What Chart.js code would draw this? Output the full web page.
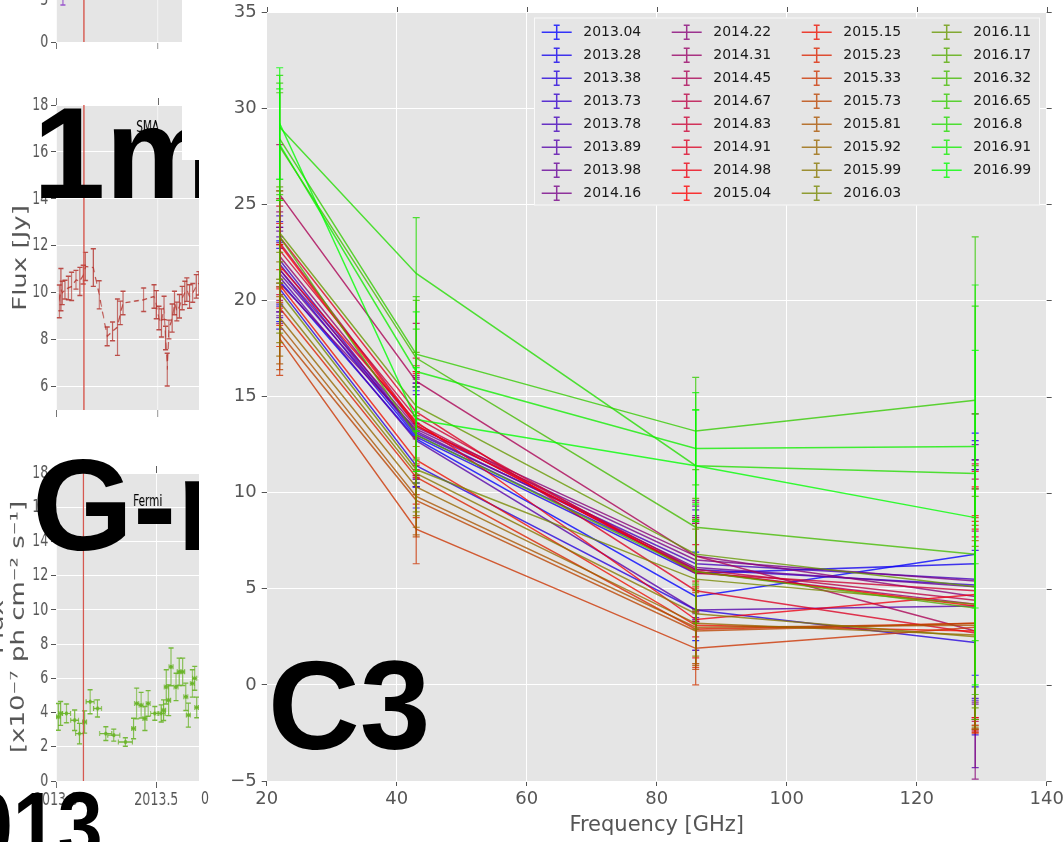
<!DOCTYPE html>
<html>
<head>
<meta charset="utf-8">
<title>Multi-frequency flux spectra</title>
<script src="https://cdn.jsdelivr.net/npm/chart.js@4.4.1/dist/chart.umd.min.js"></script>
<style>
  html, body { margin: 0; padding: 0; background: #fff; }
  #stage { position: relative; width: 1063px; height: 842px; overflow: hidden; background: #fff; }
  #leftCol { position: absolute; left: 0; top: 0; width: 199px; height: 842px; overflow: hidden; }
  #squeeze { position: absolute; left: 0; top: 0; width: 342px; height: 842px; transform-origin: 0 0; transform: scaleX(0.7); }
  #squeeze canvas { position: absolute; left: 0; }
  #mainWrap { position: absolute; left: 200px; top: 0; width: 863px; height: 842px; background: #fff; }
  .mask { position: absolute; background: #fff; }
  .big { position: absolute; margin: 0; font-family: "Liberation Sans", Arial, sans-serif; font-weight: 700;
         font-size: 130px; line-height: 130px; color: #000; white-space: nowrap; }
  .stray { position: absolute; font-family: "DejaVu Sans", sans-serif; font-size: 18px; line-height: 18px; color: #555;
           transform-origin: 0 0; transform: scaleX(0.7); }
</style>
</head>
<body>
<div id="stage">
  <div id="leftCol">
    <div id="squeeze">
      <canvas id="stubPanel"></canvas>
      <canvas id="smaPanel"></canvas>
      <canvas id="fermiPanel"></canvas>
    </div>
    <div class="big" style="left:33px;top:88px">1mm</div>
    <div class="big" style="left:32px;top:440px">G-r</div>
    <div class="big" style="left:-77px;top:778px;font-size:95px;line-height:95px;transform-origin:0 0;transform:scaleX(0.85)">2013</div>
  </div>
  <div class="mask" style="left:182px;top:0;width:18px;height:160px"></div>
  <div id="mainWrap"><canvas id="spectra"></canvas></div>
  <div class="stray" style="left:201px;top:789px">0</div>
  <div class="big" style="left:268px;top:642px;font-size:127px;line-height:127px">C3</div>
</div>

<script>
// ---------- spectra: observing frequencies and epochs ----------
const freqs = [22, 43, 86, 129];
const freqTicks = [20, 40, 60, 80, 100, 120, 140];
const fluxTicks = [-5, 0, 5, 10, 15, 20, 25, 30, 35];
const epochs = ['2013.04', '2013.28', '2013.38', '2013.73', '2013.78', '2013.89', '2013.98', '2014.16',
                '2014.22', '2014.31', '2014.45', '2014.67', '2014.83', '2014.91', '2014.98', '2015.04',
                '2015.15', '2015.23', '2015.33', '2015.73', '2015.81', '2015.92', '2015.99', '2016.03',
                '2016.11', '2016.17', '2016.32', '2016.65', '2016.8', '2016.91', '2016.99'];

// flux density [Jy] per epoch at each frequency
const flux22  = [21.0, 21.6, 20.6, 21.9, 22.1, 21.2, 21.4, 20.9, 21.6, 22.3, 25.5, 23.0, 22.6, 23.3, 21.8, 22.9,
                 20.8, 19.6, 18.0, 18.3, 18.7, 19.1, 19.9, 20.4, 23.5, 23.3, 28.0, 28.4, 29.0, 28.1, 29.2];
const flux43  = [12.8, 12.9, 11.4, 13.0, 13.1, 12.7, 13.2, 13.3, 13.4, 13.5, 15.8, 13.6, 13.9, 14.2, 13.7, 13.5,
                 11.7, 10.8, 8.1, 9.6, 9.8, 10.3, 11.0, 11.2, 14.5, 13.0, 17.0, 17.2, 21.4, 16.3, 13.8];
const flux86  = [4.6, 5.8, 3.9, 6.0, 6.3, 3.9, 6.1, 6.5, 6.7, 5.9, 6.7, 6.0, 5.8, 4.9, 3.4, 5.9,
                 3.1, 2.9, 1.9, 2.8, 3.0, 3.2, 3.7, 5.5, 6.8, 5.9, 8.2, 13.2, 11.4, 12.3, 11.4];
const flux129 = [6.8, 6.3, 2.2, 5.2, 5.5, 4.1, 5.1, 5.4, 4.6, 4.2, 2.8, 4.4, 4.9, 2.7, 4.7, 4.1,
                 2.8, 3.2, 3.0, 3.2, 3.1, 2.6, 2.5, 4.2, 5.1, 4.0, 6.8, 14.8, 11.0, 12.4, 8.7];

// 1-sigma uncertainties [Jy]
const err22  = [2.1, 2.2, 2.1, 2.2, 2.3, 2.1, 2.2, 2.1, 2.2, 2.3, 2.6, 2.3, 2.3, 2.4, 2.2, 2.3,
                2.1, 2.0, 1.9, 1.9, 2.0, 2.0, 2.1, 2.1, 2.4, 2.4, 2.8, 2.9, 2.7, 2.9, 2.9];
const err43  = [2.5, 2.6, 2.2, 2.5, 2.6, 2.4, 2.5, 2.6, 2.6, 2.6, 3.0, 2.7, 2.7, 2.8, 2.6, 2.7,
                2.3, 2.1, 1.8, 1.9, 2.0, 2.1, 2.2, 2.2, 2.8, 2.5, 3.0, 3.0, 2.9, 3.1, 2.7];
const err86  = [2.3, 2.6, 2.1, 2.7, 2.8, 2.1, 2.7, 2.8, 2.9, 2.6, 2.8, 2.7, 2.6, 2.4, 2.0, 2.7,
                2.0, 2.0, 1.9, 2.0, 2.0, 2.1, 2.2, 2.6, 2.9, 2.7, 3.0, 2.8, 2.9, 2.9, 2.9];
const err129 = [6.3, 6.4, 4.8, 6.0, 6.2, 8.4, 6.1, 6.3, 9.5, 6.0, 5.2, 6.3, 6.6, 5.0, 6.4, 6.2,
                5.3, 5.6, 5.5, 5.5, 5.2, 4.9, 4.7, 6.0, 6.3, 5.8, 7.3, 8.5, 8.7, 8.4, 8.7];

// ---------- light-curve panels ----------
const timeTicks = [2013.0, 2013.5];
const timeRange = [2013.0, 2013.9];
const markerEpoch = 2013.137;

const stubTicks = [0, 5];
const stubTime = [2013.034];
const stubFlux = [5.6];
const stubErr  = [1.2];

const smaTicks = [6, 8, 10, 12, 14, 16, 18];
const smaTime = [2013.016, 2013.024, 2013.031, 2013.044, 2013.060, 2013.077, 2013.098, 2013.117, 2013.134, 2013.145,
                 2013.183, 2013.212, 2013.251, 2013.277, 2013.301, 2013.316, 2013.329, 2013.430, 2013.481, 2013.492,
                 2013.505, 2013.517, 2013.530, 2013.538, 2013.546, 2013.554, 2013.570, 2013.582, 2013.593, 2013.606,
                 2013.619, 2013.632, 2013.642, 2013.655, 2013.671, 2013.688, 2013.701];
const smaFlux = [9.63, 10.13, 9.99, 10.13, 10.20, 10.27, 10.55, 10.48, 10.77, 11.12,
                 11.07, 9.91, 8.14, 8.35, 8.53, 9.14, 9.56, 9.70, 9.84, 9.49,
                 8.92, 8.71, 9.35, 8.07, 6.72, 8.43, 8.92, 9.56, 9.20, 9.42,
                 9.77, 9.99, 10.13, 9.84, 9.99, 10.27, 10.40];
const smaErr  = [0.7, 0.9, 0.5, 0.4, 0.5, 0.6, 0.4, 0.6, 0.4, 0.6,
                 0.8, 0.6, 0.4, 0.4, 1.2, 0.5, 0.5, 0.5, 0.5, 0.6,
                 0.5, 0.6, 0.5, 0.5, 0.7, 0.4, 0.6, 0.5, 0.4, 0.5,
                 0.5, 0.5, 0.5, 0.5, 0.4, 0.5, 0.5];

const fermiTicks = [0, 2, 4, 6, 8, 10, 12, 14, 16, 18];
const fermiTime = [2013.011, 2013.023, 2013.052, 2013.093, 2013.117, 2013.142, 2013.170, 2013.207, 2013.248, 2013.288,
                   2013.346, 2013.386, 2013.402, 2013.424, 2013.443, 2013.459, 2013.492, 2013.524, 2013.536, 2013.549,
                   2013.561, 2013.573, 2013.598, 2013.614, 2013.631, 2013.647, 2013.660, 2013.679, 2013.691, 2013.701];
const fermiFlux = [3.75, 3.95, 3.95, 3.55, 2.77, 3.45, 4.63, 4.24, 2.77, 2.68,
                   2.28, 3.07, 4.53, 4.43, 3.65, 4.53, 3.95, 3.95, 4.14, 5.50,
                   4.72, 6.67, 5.50, 6.38, 6.38, 4.92, 3.85, 5.70, 6.00, 4.30];
const fermiErr  = [0.78, 0.70, 0.55, 0.60, 0.60, 0.65, 0.70, 0.50, 0.40, 0.35,
                   0.25, 0.60, 0.90, 0.75, 0.70, 0.75, 0.40, 0.50, 0.60, 1.00,
                   0.90, 1.10, 0.80, 0.80, 0.80, 0.80, 0.70, 0.80, 0.70, 0.60];
const fermiBin  = [0.010, 0.010, 0.020, 0.020, 0.020, 0.010, 0.020, 0.020, 0.030, 0.030,
                   0.035, 0.010, 0.010, 0.010, 0.010, 0.010, 0.020, 0.020, 0.010, 0.010,
                   0.010, 0.010, 0.010, 0.010, 0.010, 0.010, 0.010, 0.010, 0.010, 0.010];

// ---------- shared drawing helpers ----------
const FONT = '"DejaVu Sans", sans-serif';
const TICK_GREY = '#555555';

// blue -> red -> green colour ramp
function brg(t, a) {
  let r, g, b;
  if (t <= 0.5) { r = 2 * t; g = 0; b = 1 - 2 * t; }
  else { r = 2 - 2 * t; g = 2 * t - 1; b = 0; }
  return `rgba(${Math.round(r * 255)},${Math.round(g * 255)},${Math.round(b * 255)},${a})`;
}

const plotBackground = {
  id: 'plotBackground',
  beforeDraw(chart, args, o) {
    const { ctx, chartArea: a } = chart;
    ctx.save();
    ctx.fillStyle = o.fill || '#E5E5E5';
    ctx.fillRect(a.left, a.top, a.right - a.left, a.bottom - a.top);
    ctx.restore();
  }
};

// vertical (and optional horizontal) error bars with caps, drawn right after each dataset
const errorBars = {
  id: 'errorBars',
  afterDatasetDraw(chart, args) {
    const ds = chart.data.datasets[args.index];
    if (!ds.yErr && !ds.xErr) return;
    const xs = chart.scales.x, ys = chart.scales.y;
    const { ctx, chartArea: a } = chart;
    const cap = ds.capHalf ?? 3.5;
    ctx.save();
    ctx.beginPath();
    ctx.rect(a.left, a.top, a.right - a.left, a.bottom - a.top);
    ctx.clip();
    ctx.strokeStyle = ds.barColor || ds.borderColor;
    ctx.lineWidth = ds.barWidth || 1.2;
    ds.data.forEach((d, i) => {
      const px = xs.getPixelForValue(d.x), py = ys.getPixelForValue(d.y);
      ctx.beginPath();
      if (ds.yErr) {
        const e = ds.yErr[i];
        const t = ys.getPixelForValue(d.y + e), b = ys.getPixelForValue(d.y - e);
        ctx.moveTo(px, t); ctx.lineTo(px, b);
        ctx.moveTo(px - cap, t); ctx.lineTo(px + cap, t);
        ctx.moveTo(px - cap, b); ctx.lineTo(px + cap, b);
      }
      if (ds.xErr) {
        const e = ds.xErr[i];
        const l = xs.getPixelForValue(d.x - e), r = xs.getPixelForValue(d.x + e);
        const c = ds.xCapHalf ?? cap;
        ctx.moveTo(l, py); ctx.lineTo(r, py);
        ctx.moveTo(l, py - c); ctx.lineTo(l, py + c);
        ctx.moveTo(r, py - c); ctx.lineTo(r, py + c);
      }
      ctx.stroke();
    });
    ctx.restore();
  }
};

// tick marks repeated on the top and right edges of the plot
const mirrorTicks = {
  id: 'mirrorTicks',
  afterDraw(chart, args, o) {
    const { ctx, chartArea: a, scales } = chart;
    ctx.save();
    ctx.strokeStyle = TICK_GREY;
    ctx.lineWidth = 1;
    ctx.beginPath();
    if (o.top !== false) {
      scales.x.ticks.forEach(t => {
        const p = Math.round(scales.x.getPixelForValue(t.value)) + 0.5;
        ctx.moveTo(p, a.top); ctx.lineTo(p, a.top - o.xLength);
      });
    }
    if (o.right !== false) {
      scales.y.ticks.forEach(t => {
        const p = Math.round(scales.y.getPixelForValue(t.value)) + 0.5;
        ctx.moveTo(a.right, p); ctx.lineTo(a.right + o.yLength, p);
      });
    }
    ctx.stroke();
    ctx.restore();
  }
};

// four-column legend with error-bar handles inside the plot
const gridLegend = {
  id: 'gridLegend',
  afterDraw(chart, args, o) {
    const ctx = chart.ctx;
    const dsets = chart.data.datasets;
    ctx.save();
    ctx.fillStyle = o.fill;
    ctx.fillRect(o.left, o.top, o.width, o.height);
    ctx.strokeStyle = o.edge;
    ctx.lineWidth = 1;
    ctx.strokeRect(o.left + 0.5, o.top + 0.5, o.width - 1, o.height - 1);
    ctx.font = o.font;
    ctx.textBaseline = 'middle';
    ctx.textAlign = 'left';
    dsets.forEach((ds, i) => {
      const c = Math.floor(i / o.rows), r = i % o.rows;
      const x0 = o.left + o.padX + c * o.colW;
      const yc = o.top + o.padY + r * o.rowH;
      const xm = x0 + o.handle / 2;
      ctx.strokeStyle = ds.borderColor;
      ctx.lineWidth = ds.borderWidth;
      ctx.beginPath();
      ctx.moveTo(x0, yc); ctx.lineTo(x0 + o.handle, yc);
      ctx.moveTo(xm, yc - o.bar); ctx.lineTo(xm, yc + o.bar);
      ctx.moveTo(xm - o.cap, yc - o.bar); ctx.lineTo(xm + o.cap, yc - o.bar);
      ctx.moveTo(xm - o.cap, yc + o.bar); ctx.lineTo(xm + o.cap, yc + o.bar);
      ctx.stroke();
      ctx.fillStyle = o.textColor;
      ctx.fillText(ds.label, x0 + o.textGap, yc + 0.5);
    });
    ctx.restore();
  }
};

// ---------- spectra chart ----------
const fluxByFreq = [flux22, flux43, flux86, flux129];
const errByFreq = [err22, err43, err86, err129];
const nEp = epochs.length;

const spectraSets = epochs.map((ep, i) => ({
  label: ep,
  data: freqs.map((f, j) => ({ x: f, y: fluxByFreq[j][i] })),
  yErr: errByFreq.map(col => col[i]),
  borderColor: brg(i / (nEp - 1), 0.78),
  borderWidth: 1.5,
  barWidth: 1.2,
  capHalf: 3.5,
  pointRadius: 0,
  tension: 0,
  fill: false,
  order: nEp - i
}));

const mainCanvas = document.getElementById('spectra');
mainCanvas.width = 863;
mainCanvas.height = 842;

const axisFont = { family: FONT, size: 18 };

new Chart(mainCanvas, {
  type: 'line',
  data: { datasets: spectraSets },
  options: {
    responsive: false,
    animation: false,
    devicePixelRatio: 1,
    layout: { padding: { top: 12, right: 16.3, left: 0, bottom: 0 } },
    scales: {
      x: {
        type: 'linear', min: freqTicks[0], max: freqTicks[freqTicks.length - 1],
        afterBuildTicks: s => { s.ticks = freqTicks.map(v => ({ value: v })); },
        afterFit: s => { s.height = 61; s.paddingLeft = 0; s.paddingRight = 0; },
        ticks: { font: axisFont, color: TICK_GREY, padding: 3, maxRotation: 0, autoSkip: false },
        grid: { color: '#ffffff', lineWidth: 1, tickColor: TICK_GREY, tickLength: 5 },
        border: { display: false },
        title: { display: true, text: 'Frequency [GHz]', font: { family: FONT, size: 21 }, color: TICK_GREY,
                 padding: { top: 0, bottom: 4 } }
      },
      y: {
        type: 'linear', min: fluxTicks[0], max: fluxTicks[fluxTicks.length - 1],
        afterBuildTicks: s => { s.ticks = fluxTicks.map(v => ({ value: v })); },
        afterFit: s => { s.width = 66.7; s.paddingTop = 0; s.paddingBottom = 0; },
        ticks: { font: axisFont, color: TICK_GREY, padding: 5, autoSkip: false,
                 callback: v => (v < 0 ? '\u2212' + Math.abs(v) : String(v)) },
        grid: { color: '#ffffff', lineWidth: 1, tickColor: TICK_GREY, tickLength: 5 },
        border: { display: false }
      }
    },
    plugins: {
      legend: { display: false },
      tooltip: { enabled: false },
      plotBackground: { fill: '#E5E5E5' },
      mirrorTicks: { xLength: 5, yLength: 5 },
      gridLegend: {
        left: 334, top: 17.5, width: 506, height: 188,
        rows: 8, colW: 130, rowH: 23.0, padX: 7.7, padY: 14.8,
        handle: 30, bar: 7, cap: 3, textGap: 41.6,
        fill: '#E5E5E5', edge: 'rgba(255,255,255,0.75)',
        font: `14px ${FONT}`, textColor: '#1a1a1a'
      }
    }
  },
  plugins: [plotBackground, errorBars, mirrorTicks, gridLegend]
});

// ---------- light-curve panels ----------
const epochMarker = {
  id: 'epochMarker',
  afterDatasetsDraw(chart, args, o) {
    const { ctx, chartArea: a, scales: { x } } = chart;
    const p = x.getPixelForValue(o.value);
    ctx.save();
    ctx.strokeStyle = o.stroke;
    ctx.lineWidth = o.lineW;
    ctx.beginPath();
    ctx.moveTo(p, a.top); ctx.lineTo(p, a.bottom);
    ctx.stroke();
    ctx.restore();
  }
};

const panelText = {
  id: 'panelText',
  afterDraw(chart, args, o) {
    const ctx = chart.ctx;
    ctx.save();
    if (o.title) {
      ctx.font = `15px ${FONT}`;
      ctx.fillStyle = '#000';
      ctx.textAlign = 'center';
      ctx.textBaseline = 'middle';
      ctx.fillText(o.title, o.titleX, o.titleY);
    }
    (o.yTitle || []).forEach(line => {
      ctx.save();
      ctx.translate(line.x, line.y);
      ctx.rotate(-Math.PI / 2);
      ctx.font = `26px ${FONT}`;
      ctx.fillStyle = TICK_GREY;
      ctx.textAlign = 'center';
      ctx.textBaseline = 'middle';
      ctx.fillText(line.text, 0, 0);
      ctx.restore();
    });
    ctx.restore();
  }
};

function lightCurve(id, cfg) {
  const el = document.getElementById(id);
  el.width = 342;
  el.height = cfg.padTop + cfg.plotH + cfg.xAxisH;
  el.style.top = (cfg.plotTop - cfg.padTop) + 'px';
  const tickFont = { family: FONT, size: 18 };
  return new Chart(el, {
    type: 'line',
    data: { datasets: cfg.datasets },
    options: {
      responsive: false,
      animation: false,
      devicePixelRatio: 1,
      layout: { padding: { top: cfg.padTop, left: 0, right: 0, bottom: 0 } },
      scales: {
        x: {
          type: 'linear', min: timeRange[0], max: timeRange[1],
          afterBuildTicks: s => { s.ticks = timeTicks.map(v => ({ value: v })); },
          afterFit: s => { s.height = cfg.xAxisH; s.paddingLeft = 0; s.paddingRight = 0; },
          ticks: { display: cfg.xLabels, font: tickFont, color: TICK_GREY, padding: 2, maxRotation: 0,
                   autoSkip: false, callback: v => v.toFixed(1) },
          grid: { color: '#ffffff', tickColor: TICK_GREY, tickLength: 7 },
          border: { display: false }
        },
        y: {
          type: 'linear', min: cfg.yMin, max: cfg.yMax,
          afterBuildTicks: s => { s.ticks = cfg.yTicks.map(v => ({ value: v })); },
          afterFit: s => { s.width = 80; s.paddingTop = 0; s.paddingBottom = 0; },
          ticks: { font: tickFont, color: TICK_GREY, padding: 4, autoSkip: false },
          grid: { color: '#ffffff', tickColor: TICK_GREY, tickLength: 7 },
          border: { display: false }
        }
      },
      plugins: {
        legend: { display: false },
        tooltip: { enabled: false },
        plotBackground: { fill: '#E5E5E5' },
        epochMarker: { value: markerEpoch, stroke: 'rgb(212,70,60)', lineW: 1.6 },
        mirrorTicks: { xLength: 7, yLength: 7, right: false },
        panelText: cfg.text
      }
    },
    plugins: [plotBackground, errorBars, epochMarker, mirrorTicks, panelText]
  });
}

const pts = (ts, vs) => ts.map((t, i) => ({ x: t, y: vs[i] }));

lightCurve('stubPanel', {
  plotTop: -50, padTop: 10, plotH: 92, xAxisH: 10,
  yMin: 0, yMax: 10.95, yTicks: stubTicks, xLabels: false,
  datasets: [{
    data: pts(stubTime, stubFlux), yErr: stubErr,
    borderColor: 'rgba(140,60,200,0.85)', showLine: false, pointRadius: 0,
    barWidth: 1.4, capHalf: 3.6
  }],
  text: {}
});

lightCurve('smaPanel', {
  plotTop: 105, padTop: 10, plotH: 305, xAxisH: 10,
  yMin: 5, yMax: 18, yTicks: smaTicks, xLabels: false,
  datasets: [{
    data: pts(smaTime, smaFlux), yErr: smaErr,
    borderColor: 'rgba(180,50,45,0.85)', borderWidth: 1.4, borderDash: [7, 5],
    pointRadius: 0, tension: 0, barWidth: 1.4, capHalf: 3.6
  }],
  text: { title: 'SMA', titleX: 211, titleY: 33, yTitle: [{ text: 'Flux [Jy]', x: 30, y: 163 }] }
});

lightCurve('fermiPanel', {
  plotTop: 473, padTop: 10, plotH: 308, xAxisH: 40,
  yMin: 0, yMax: 18, yTicks: fermiTicks, xLabels: true,
  datasets: [{
    data: pts(fermiTime, fermiFlux), yErr: fermiErr, xErr: fermiBin,
    borderColor: 'rgba(105,180,40,0.9)', backgroundColor: 'rgba(105,180,40,0.9)',
    showLine: false, pointRadius: 2.2, pointBorderWidth: 0,
    barWidth: 1.4, capHalf: 3.6, xCapHalf: 2.5
  }],
  text: {
    title: 'Fermi', titleX: 211, titleY: 39,
    yTitle: [{ text: 'Flux', x: -3, y: 164 }, { text: '[x10\u207B\u2077 ph cm\u207B\u00B2 s\u207B\u00B9]', x: 27, y: 164 }]
  }
});
</script>
</body>
</html>
